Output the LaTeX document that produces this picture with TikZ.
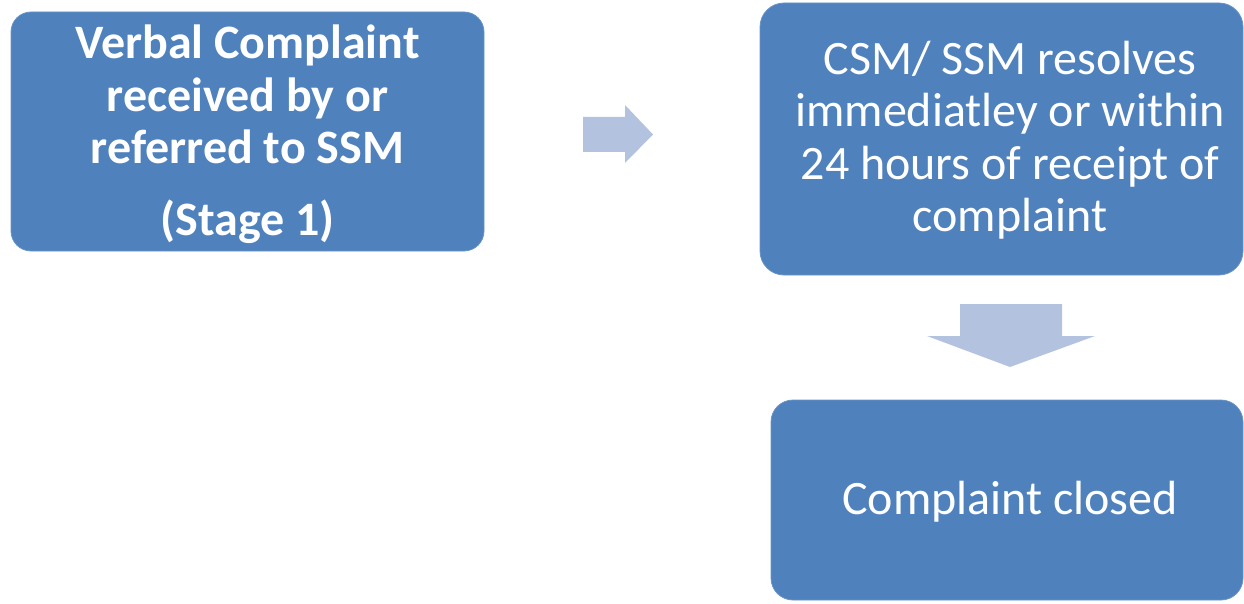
\documentclass[tikz,border=0pt]{standalone}
\usepackage{fontspec}
\setmainfont{Carlito}
\definecolor{boxblue}{HTML}{4F81BD}
\definecolor{arrowblue}{HTML}{B3C3DF}
\begin{document}
\begin{tikzpicture}[x=1pt,y=-1pt,
  stepbox/.style={fill=boxblue, draw=boxblue!85!white, line width=0.8pt, rounded corners=20pt, inner sep=0pt},
  steptext/.style={text=white, align=center, inner sep=0pt, font=\fontsize{48}{52.5}\selectfont},
  blockarrow/.style={fill=arrowblue, draw=none}]
\useasboundingbox (0,0) rectangle (1244,604);
\node[stepbox, minimum width=473pt, minimum height=239pt] (a) at (247.5,131.5) {};
\node[steptext, font=\bfseries\fontsize{48}{52.5}\selectfont]
  (at) at (247.5,134) {Verbal Complaint\\received by or\\referred to SSM\\[19pt](Stage 1)};
\node[stepbox, minimum width=483pt, minimum height=272pt, rounded corners=24pt] (b) at (1001.5,139) {};
\node[steptext] (bt) at (1010,140) {CSM/ SSM resolves\\immediatley or within\\24 hours of receipt of\\complaint};
\node[stepbox, minimum width=472pt, minimum height=200pt, rounded corners=22pt] (c) at (1007,500) {};
\node[steptext] (ct) at (1010,502) {Complaint closed};
% right block arrow
\path[blockarrow] (583,117) -- (625,117) -- (625,105) -- (653,134.5) -- (625,163) -- (625,152) -- (583,152) -- cycle;
% down block arrow
\path[blockarrow] (960,304) -- (1062,304) -- (1062,336) -- (1095,336) -- (1010,367) -- (927,336) -- (960,336) -- cycle;
\end{tikzpicture}
\end{document}
